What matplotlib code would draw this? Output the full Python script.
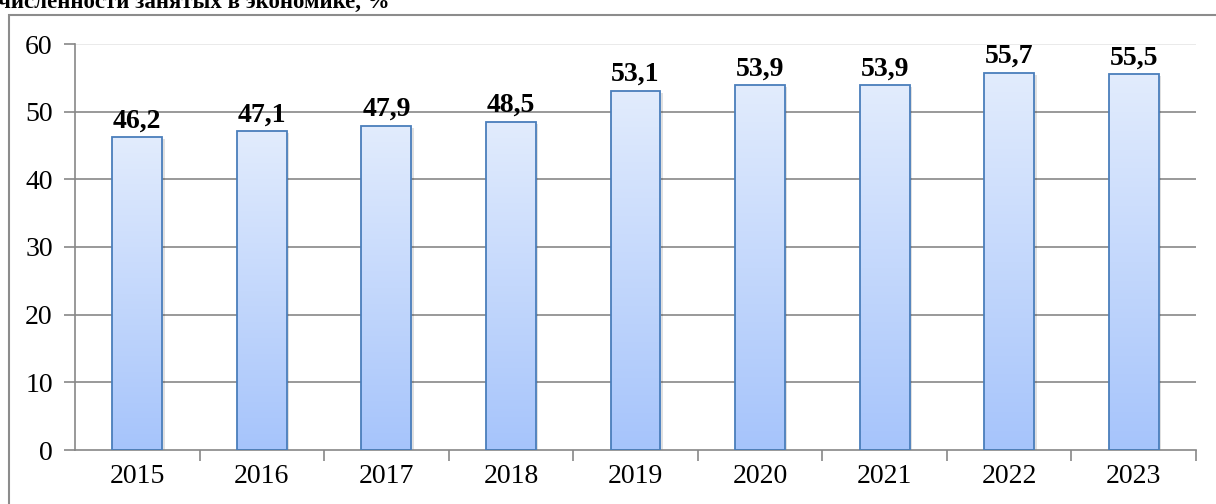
import numpy as np
import matplotlib
matplotlib.use("Agg")
import matplotlib.pyplot as plt
from matplotlib.patches import Rectangle

# данные
years = ["2015", "2016", "2017", "2018", "2019", "2020", "2021", "2022", "2023"]
values = [46.2, 47.1, 47.9, 48.5, 53.1, 53.9, 53.9, 55.7, 55.5]
labels = ["46,2", "47,1", "47,9", "48,5", "53,1", "53,9", "53,9", "55,7", "55,5"]
yticks = [0, 10, 20, 30, 40, 50, 60]

plt.rcParams['font.family'] = ['Liberation Serif', 'DejaVu Serif']

fig = plt.figure(figsize=(12.16, 5.04), dpi=100)
ax = fig.add_axes([75/1216, 1-450/504, (1196-75)/1216, (450-44)/504])

# рамка вокруг диаграммы
fig.patches.append(Rectangle((8.5/1216, -0.1), 1.2, 1.1 - 15/504, transform=fig.transFigure,
                             fill=False, edgecolor="#8c8c8c", lw=1.5))

# заголовок (обрезан сверху)
fig.text(-0.002, 1 - 8/504, "численности занятых в экономике, %", fontsize=16.5, fontweight="bold",
         ha="left", va="baseline")

x = np.arange(len(years))
bars = ax.bar(x, values, width=0.4, color="none", edgecolor="#4a7ebb", lw=1.3, zorder=3)

# градиент в столбцах
grad = np.linspace(0, 1, 256).reshape(-1, 1)
cmap = matplotlib.colors.LinearSegmentedColormap.from_list("g", ["#a6c4fb", "#e2ecfd"])
for b in bars:
    x0, w, h = b.get_x(), b.get_width(), b.get_height()
    # тень
    ax.add_patch(Rectangle((x0 + 0.02, -0.3), w, h, facecolor="#000000", alpha=0.12, lw=0, zorder=2))
    im = ax.imshow(grad, extent=[x0, x0 + w, 0, h], origin="lower", cmap=cmap, aspect="auto", zorder=2.5)
    im.set_clip_path(b)

for xi, v, lab in zip(x, values, labels):
    ax.text(xi, v + 0.6, lab, ha="center", va="bottom", fontsize=20, fontweight="bold")

ax.set_xlim(-0.5, len(years) - 0.5)
ax.set_ylim(0, 60)
ax.set_yticks(yticks)
ax.set_xticks(x)
ax.set_xticklabels(years)

for t in yticks[1:-1]:
    ax.axhline(t, color="#878787", lw=1.2, zorder=1)
ax.axhline(60, color="#e6e6e6", lw=1.2, zorder=1)

for s in ["top", "right"]:
    ax.spines[s].set_visible(False)
for s in ["left", "bottom"]:
    ax.spines[s].set_color("#878787")
    ax.spines[s].set_linewidth(1.2)

ax.tick_params(axis="y", length=8, width=1.2, color="#878787", labelsize=20, pad=8)
ax.tick_params(axis="x", which="major", length=0, labelsize=20, pad=10)
ax.tick_params(axis="x", which="minor", length=8, width=1.2, color="#878787")
ax.set_xticks([-0.5 + i for i in range(1, len(years) + 1)], minor=True)

fig.savefig("out.png", dpi=100)
